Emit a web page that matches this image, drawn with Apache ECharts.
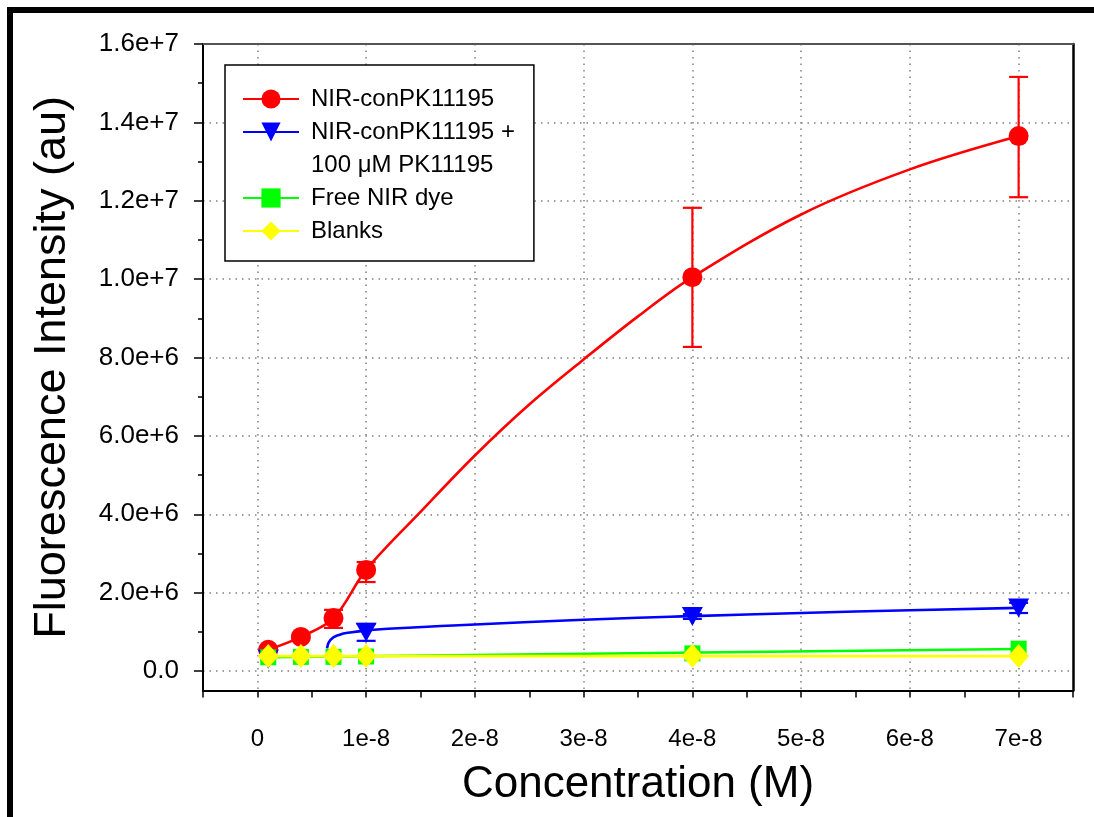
<!DOCTYPE html>
<html><head><meta charset="utf-8">
<script src="https://cdn.jsdelivr.net/npm/echarts@6/dist/echarts.min.js"></script>
<style>
html,body{margin:0;padding:0;background:#fff;overflow:hidden;}
body{width:1094px;height:817px;position:relative;}
#chart{position:absolute;left:0;top:0;width:1094px;height:817px;}
#frame{position:absolute;left:7px;top:7px;width:1200px;height:1000px;border-top:6px solid #000;border-left:6px solid #000;pointer-events:none;}
</style></head><body>
<div id="chart"></div><div id="frame"></div>
<script>
// ---- data ----
const concentrations = [1e-9, 4e-9, 7e-9, 1e-8, 4e-8, 7e-8];

const redValues  = [0.54e6, 0.87e6, 1.35e6, 2.58e6, 10.05e6, 13.65e6];
const redErrLow  = [0.50e6, 0.83e6, 1.10e6, 2.27e6, 8.27e6, 12.09e6];
const redErrHigh = [0.58e6, 0.91e6, 1.56e6, 2.78e6, 11.82e6, 15.16e6];
const redFitX = [1e-9, 4e-9, 7e-9, 1e-8, 1.5e-8, 2e-8, 2.5e-8, 3e-8, 3.5e-8, 4e-8, 5e-8, 6e-8, 7e-8];
const redFitY = [0.54e6, 0.87e6, 1.35e6, 2.58e6, 4.06e6, 5.5e6, 6.8e6, 7.95e6, 9.05e6, 10.05e6, 11.65e6, 12.8e6, 13.65e6];

const blueValues  = [0.30e6, null, null, 0.99e6, 1.39e6, 1.61e6];
const blueErrLow  = [0.30e6, null, null, 0.77e6, 1.33e6, 1.48e6];
const blueErrHigh = [0.30e6, null, null, 1.20e6, 1.45e6, 1.74e6];
const blueFitX = [6.4e-9, 6.7e-9, 7.5e-9, 8.7e-9, 1e-8, 1.2e-8, 1.8e-8, 2.5e-8, 3.5e-8, 4e-8, 5e-8, 6e-8, 7e-8];
const blueFitY = [0.58e6, 0.79e6, 0.92e6, 0.99e6, 1.03e6, 1.08e6, 1.16e6, 1.25e6, 1.36e6, 1.40e6, 1.48e6, 1.55e6, 1.61e6];

const greenValues = [0.35e6, 0.36e6, 0.36e6, 0.37e6, 0.45e6, 0.57e6];
const greenFitX = [1e-9, 7e-8];
const greenFitY = [0.35e6, 0.56e6];

const yellowValues = [0.38e6, 0.38e6, 0.38e6, 0.38e6, 0.39e6, 0.38e6];
const yellowFitX = [1e-9, 7e-8];
const yellowFitY = [0.38e6, 0.38e6];

const seriesNames = ['NIR-conPK11195', 'NIR-conPK11195 +', '100 \u03bcM PK11195', 'Free NIR dye', 'Blanks'];
const xTickLabels = ['0', '1e-8', '2e-8', '3e-8', '4e-8', '5e-8', '6e-8', '7e-8'];
const yTickLabels = ['0.0', '2.0e+6', '4.0e+6', '6.0e+6', '8.0e+6', '1.0e+7', '1.2e+7', '1.4e+7', '1.6e+7'];
const xTitle = 'Concentration (M)';
const yTitle = 'Fluorescence Intensity (au)';

// ---- build ----
const FONT = '"Liberation Sans", Arial, sans-serif';
const zip = (xs, ys) => xs.map((x, i) => [x, ys[i]]).filter(p => p[1] != null);
const zip3 = (xs, a, b) => xs.map((x, i) => [x, a[i], b[i]]).filter(p => p[1] != null);

const PL = 203, PT = 44, PW = 870;
const HB = 627;                 // height for 0 .. 1.6e7
const HA = HB * 16.5 / 16;      // height for -5e5 .. 1.6e7
const dotted = { color: '#808080', width: 1.5, type: [1.5, 5] };

function errorRender(color) {
  return function (params, api) {
    const x = api.value(0), lo = api.value(1), hi = api.value(2);
    if (hi - lo <= 0) return null;
    const a = api.coord([x, lo]), b = api.coord([x, hi]);
    const hw = 9.5;
    const style = { stroke: color, lineWidth: 2.2 };
    return { type: 'group', children: [
      { type: 'line', shape: { x1: a[0], y1: a[1], x2: b[0], y2: b[1] }, style },
      { type: 'line', shape: { x1: a[0] - hw, y1: a[1], x2: a[0] + hw, y2: a[1] }, style },
      { type: 'line', shape: { x1: b[0] - hw, y1: b[1], x2: b[0] + hw, y2: b[1] }, style }
    ]};
  };
}

const TRI_DOWN = 'path://M0,0L10,0L5,9Z';

const groups = [
  { name: seriesNames[0], color: '#ff0000', symbol: 'circle', size: 20, vals: redValues, fit: zip(redFitX, redFitY), lo: redErrLow, hi: redErrHigh, smooth: 0.35 },
  { name: seriesNames[1], color: '#0000ff', symbol: TRI_DOWN, size: [21, 19], vals: blueValues, fit: zip(blueFitX, blueFitY), lo: blueErrLow, hi: blueErrHigh, smooth: 0.5 },
  { name: seriesNames[3], color: '#00ff00', symbol: 'rect', size: 16, vals: greenValues, fit: zip(greenFitX, greenFitY) },
  { name: seriesNames[4], color: '#ffff00', symbol: 'diamond', size: [21, 24], vals: yellowValues, fit: zip(yellowFitX, yellowFitY) }
];

const series = [];
groups.forEach((g, gi) => {
  series.push({
    type: 'line', name: g.name, xAxisIndex: 0, yAxisIndex: 0,
    data: g.fit, smooth: g.smooth || false, showSymbol: false,
    symbol: g.symbol, symbolSize: g.size,
    lineStyle: { color: g.color, width: 2.6 },
    itemStyle: { color: g.color },
    silent: true, z: 3 + gi
  });
  if (g.lo) {
    series.push({
      type: 'custom', name: g.name, xAxisIndex: 0, yAxisIndex: 0,
      renderItem: errorRender(g.color),
      data: zip3(concentrations, g.lo, g.hi),
      encode: { x: 0, y: [1, 2] }, silent: true, z: 3 + gi
    });
  }
  series.push({
    type: 'scatter', name: g.name, xAxisIndex: 0, yAxisIndex: 0,
    data: zip(concentrations, g.vals),
    symbol: g.symbol, symbolSize: g.size,
    itemStyle: { color: g.color, opacity: 1 },
    silent: true, z: 3 + gi
  });
});
// legend-only entry for the second line of the blue label
series.push({
  type: 'line', name: seriesNames[2], xAxisIndex: 0, yAxisIndex: 0, data: [],
  symbol: 'none', lineStyle: { color: 'rgba(0,0,0,0)', width: 0 }, itemStyle: { color: 'rgba(0,0,0,0)' }
});

const chart = echarts.init(document.getElementById('chart'), null, { renderer: 'canvas' });
chart.setOption({
  backgroundColor: '#ffffff',
  animation: false,
  textStyle: { fontFamily: FONT },
  grid: [
    { left: PL, top: PT, width: PW, height: HA, containLabel: false },
    { left: PL, top: PT, width: PW, height: HB, containLabel: false },
    { left: PL + PW / 16, top: PT, width: PW * 14 / 16, height: HA, containLabel: false }
  ],
  xAxis: [
    { gridIndex: 0, type: 'value', position: 'bottom', min: -5e-9, max: 7.5e-8, interval: 5e-9,
      axisLine: { show: true, onZero: false, lineStyle: { color: '#000', width: 2 } },
      axisTick: { show: true, inside: false, length: 7, lineStyle: { color: '#000', width: 1.5 } },
      axisLabel: { show: true, margin: 37, fontSize: 24, color: '#000', fontFamily: FONT,
        formatter: v => { const k = Math.round(v / 1e-8); return (Math.abs(v - k * 1e-8) < 1e-12 && k >= 0 && k < xTickLabels.length) ? xTickLabels[k] : ''; } },
      splitLine: { show: false },
      name: xTitle, nameLocation: 'middle', nameGap: 72,
      nameTextStyle: { fontSize: 44, color: '#000', fontFamily: FONT } },
    { gridIndex: 0, type: 'value', position: 'top', min: -5e-9, max: 7.5e-8,
      axisLine: { show: true, onZero: false, lineStyle: { color: '#555', width: 2 } },
      axisTick: { show: false }, axisLabel: { show: false }, splitLine: { show: false } },
    { gridIndex: 1, type: 'value', min: 0, max: 1, show: false },
    { gridIndex: 2, type: 'value', min: 0, max: 7e-8, interval: 1e-8,
      axisLine: { show: false }, axisTick: { show: false }, axisLabel: { show: false },
      splitLine: { show: true, lineStyle: dotted } }
  ],
  yAxis: [
    { gridIndex: 0, type: 'value', position: 'left', min: -5e5, max: 1.6e7,
      axisLine: { show: true, onZero: false, lineStyle: { color: '#000', width: 2 } },
      axisTick: { show: false }, axisLabel: { show: false }, splitLine: { show: false },
      name: yTitle, nameLocation: 'middle', nameGap: 128,
      nameTextStyle: { fontSize: 45, color: '#000', fontFamily: FONT } },
    { gridIndex: 0, type: 'value', position: 'right', min: -5e5, max: 1.6e7,
      axisLine: { show: true, onZero: false, lineStyle: { color: '#000', width: 2.5 } },
      axisTick: { show: false }, axisLabel: { show: false }, splitLine: { show: false } },
    { gridIndex: 1, type: 'value', position: 'left', min: 0, max: 1.6e7, interval: 2e6,
      axisLine: { show: false },
      axisTick: { show: true, inside: false, length: 9, lineStyle: { color: '#000', width: 1.5 } },
      minorTick: { show: true, splitNumber: 2, length: 5, lineStyle: { color: '#000', width: 1.5 } },
      axisLabel: { show: true, margin: 24, fontSize: 26, color: '#000', fontFamily: FONT,
        formatter: v => yTickLabels[Math.round(v / 2e6)] },
      splitLine: { show: true, lineStyle: dotted } },
    { gridIndex: 2, type: 'value', min: 0, max: 1, show: false }
  ],
  legend: {
    orient: 'vertical', left: 225, top: 65,
    data: seriesNames,
    itemWidth: 56, itemHeight: 24, itemGap: 7,
    padding: [21, 19, 17, 17],
    borderColor: '#000', borderWidth: 1.5, backgroundColor: '#fff',
    selectedMode: false,
    textStyle: { fontSize: 24, color: '#000', fontFamily: FONT, lineHeight: 26, padding: [0, 0, 0, 7] },
    z: 10
  },
  series: series
});
</script>
</body></html>
